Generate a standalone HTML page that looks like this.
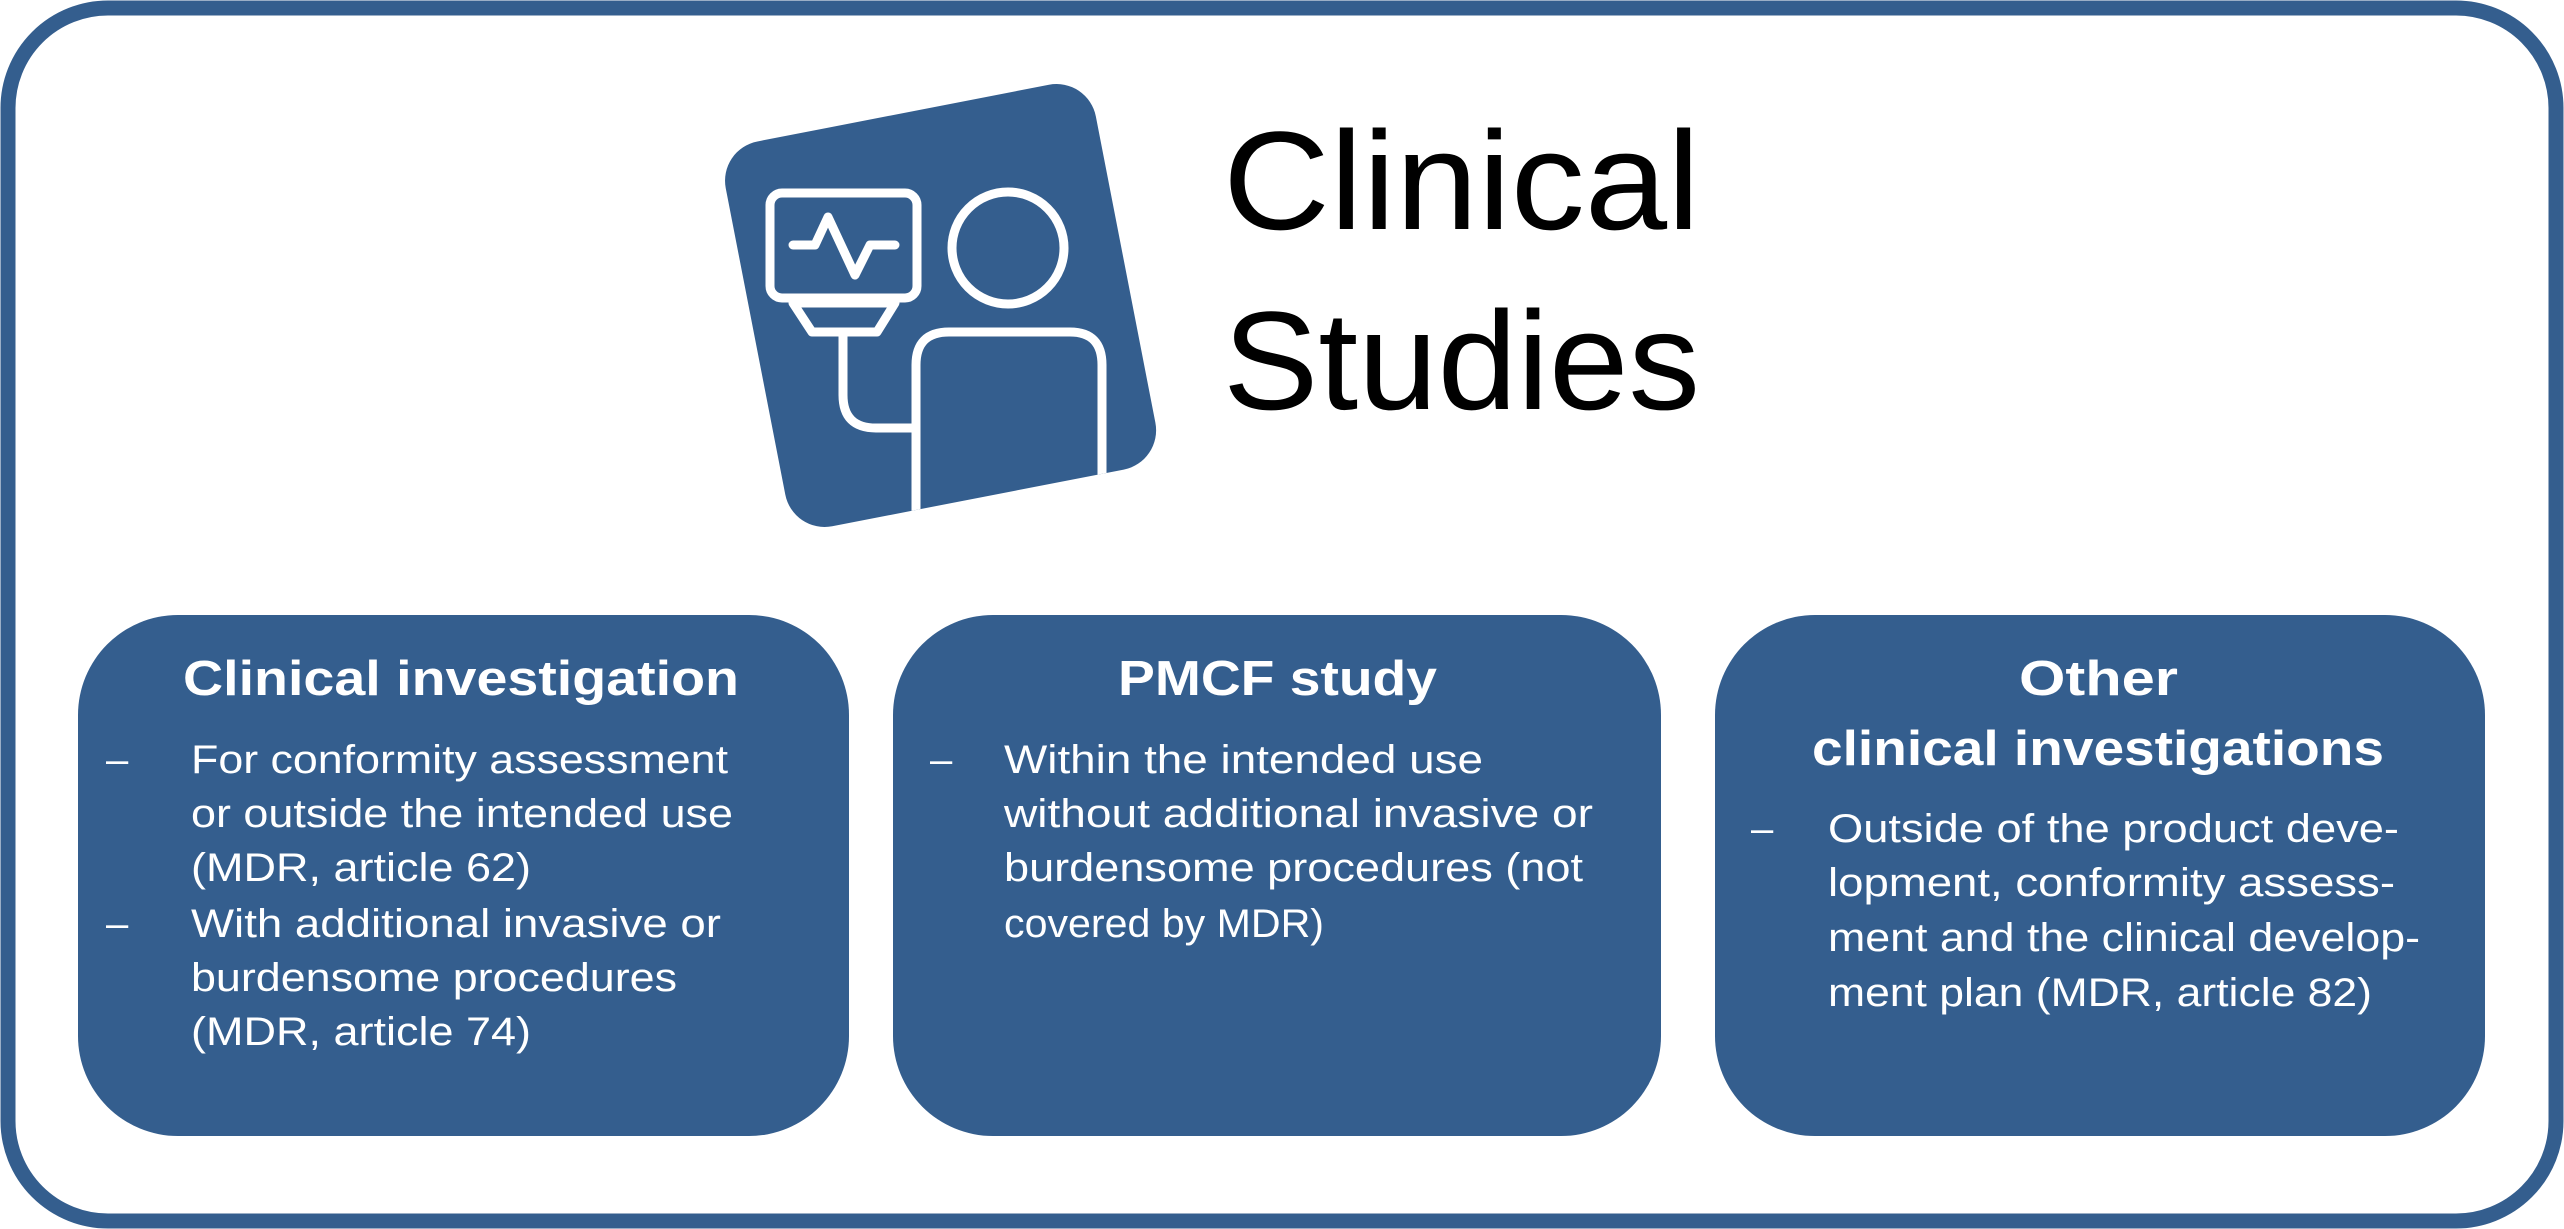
<!DOCTYPE html>
<html><head><meta charset="utf-8"><style>
html,body{margin:0;padding:0;background:#fff;}
svg{display:block;}
text{font-family:"Liberation Sans",sans-serif;}
</style></head><body>
<svg width="2564" height="1229" viewBox="0 0 2564 1229" xmlns="http://www.w3.org/2000/svg">
<defs>
<clipPath id="ic"><rect x="750" y="110" width="377" height="392" rx="40" transform="rotate(-11 937 295)"/></clipPath>
</defs>
<rect x="8" y="8" width="2548" height="1213" rx="100" fill="#fff" stroke="#345e8e" stroke-width="15"/>
<!-- icon -->
<rect x="750" y="110" width="377" height="392" rx="40" fill="#345e8e" transform="rotate(-11 937 295)"/>
<g clip-path="url(#ic)" fill="none" stroke="#fff" stroke-width="9" stroke-linejoin="round" stroke-linecap="round">
<rect x="770" y="193" width="147" height="105" rx="12"/>
<polyline points="793,245 815,245 828,217 855,275 870,245 895,245"/>
<polygon points="793,303 812,332 877,332 895,303"/>
<path d="M843,332 V395 Q843,428 876,428 H916"/>
<circle cx="1008" cy="248" r="56"/>
<path d="M916,600 V365 Q916,332 949,332 H1070 Q1102,332 1102,365 V600" stroke-linecap="butt"/>
</g>
<text x="1223" y="229" font-size="140" fill="#000" textLength="477" lengthAdjust="spacingAndGlyphs">Clinical</text>
<text x="1223" y="409" font-size="140" fill="#000" textLength="477" lengthAdjust="spacingAndGlyphs">Studies</text>
<!-- boxes -->
<rect x="78" y="615" width="771" height="521" rx="100" fill="#345e8e"/>
<rect x="893" y="615" width="768" height="521" rx="100" fill="#345e8e"/>
<rect x="1715" y="615" width="770" height="521" rx="100" fill="#345e8e"/>
<g fill="#fff" font-size="40">
<text x="183" y="695" font-size="49" font-weight="bold" textLength="556" lengthAdjust="spacingAndGlyphs">Clinical investigation</text>
<text x="106" y="773">–</text>
<text x="191" y="773" textLength="537" lengthAdjust="spacingAndGlyphs">For conformity assessment</text>
<text x="191" y="827" textLength="542" lengthAdjust="spacingAndGlyphs">or outside the intended use</text>
<text x="191" y="881" textLength="340" lengthAdjust="spacingAndGlyphs">(MDR, article 62)</text>
<text x="106" y="937">–</text>
<text x="191" y="937" textLength="530" lengthAdjust="spacingAndGlyphs">With additional invasive or</text>
<text x="191" y="991" textLength="486" lengthAdjust="spacingAndGlyphs">burdensome procedures</text>
<text x="191" y="1045" textLength="340" lengthAdjust="spacingAndGlyphs">(MDR, article 74)</text>

<text x="1118" y="695" font-size="49" font-weight="bold" textLength="319" lengthAdjust="spacingAndGlyphs">PMCF study</text>
<text x="930" y="773">–</text>
<text x="1004" y="773" textLength="479" lengthAdjust="spacingAndGlyphs">Within the intended use</text>
<text x="1004" y="827" textLength="589" lengthAdjust="spacingAndGlyphs">without additional invasive or</text>
<text x="1004" y="881" textLength="579" lengthAdjust="spacingAndGlyphs">burdensome procedures (not</text>
<text x="1004" y="937" textLength="320" lengthAdjust="spacingAndGlyphs">covered by MDR)</text>

<text x="2019" y="695" font-size="49" font-weight="bold" textLength="159" lengthAdjust="spacingAndGlyphs">Other</text>
<text x="1812" y="765" font-size="49" font-weight="bold" textLength="572" lengthAdjust="spacingAndGlyphs">clinical investigations</text>
<text x="1751" y="842">–</text>
<text x="1828" y="842" textLength="571" lengthAdjust="spacingAndGlyphs">Outside of the product deve-</text>
<text x="1828" y="896" textLength="567" lengthAdjust="spacingAndGlyphs">lopment, conformity assess-</text>
<text x="1828" y="951" textLength="592" lengthAdjust="spacingAndGlyphs">ment and the clinical develop-</text>
<text x="1828" y="1006" textLength="544" lengthAdjust="spacingAndGlyphs">ment plan (MDR, article 82)</text>
</g>
</svg>
</body></html>
